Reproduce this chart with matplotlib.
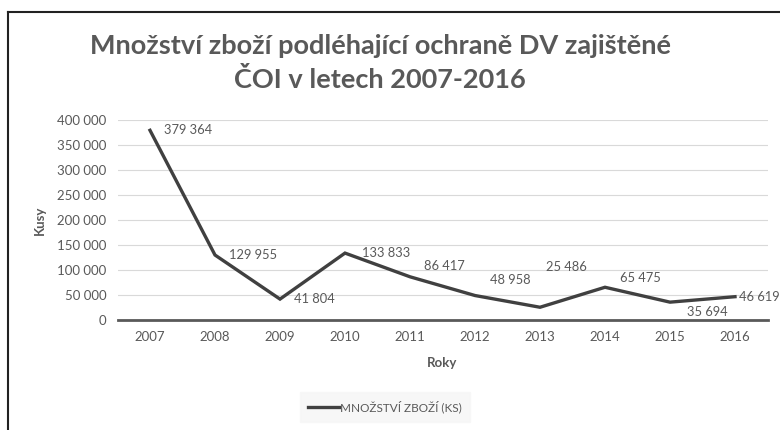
import matplotlib.pyplot as plt
from matplotlib.lines import Line2D

years = [2007, 2008, 2009, 2010, 2011, 2012, 2013, 2014, 2015, 2016]
pieces = [379364, 129955, 41804, 133833, 86417, 48958, 25486, 65475, 35694, 46619]
# label offsets in points (dx, dy), as placed in the original chart
label_offsets = [(10, 0), (10, 0), (10, 0), (12, 0), (10, 8), (11, 11), (4, 29),
                 (11, 7), (12, -7), (3, 0)]

plt.rcParams['font.family'] = ['Lato', 'DejaVu Sans']
grey = '#595959'

fig = plt.figure(figsize=(7.8, 4.3), dpi=100)
ax = fig.add_axes([117.5 / 780, 1 - 320 / 430, 650 / 780, 200 / 430])

x = list(range(len(years)))
ax.plot(x, pieces, color='#404040', lw=2.4, solid_joinstyle='miter', zorder=3)

for xi, v, (dx, dy) in zip(x, pieces, label_offsets):
    ax.annotate(f'{v:,}'.replace(',', ' '), (xi, v), xytext=(dx, dy),
                textcoords='offset points', ha='left', va='center',
                fontsize=9.3, color=grey, annotation_clip=False, zorder=4)

ax.set_xlim(-0.5, len(years) - 0.5)
ax.set_ylim(0, 400000)
ax.set_xticks(x)
ax.set_xticklabels([str(y) for y in years])
ax.set_yticks(range(0, 400001, 50000))
ax.set_yticklabels([f'{t:,}'.replace(',', ' ') for t in range(0, 400001, 50000)])
ax.tick_params(length=0, labelsize=9.5, colors=grey, pad=8)
ax.grid(axis='y', color='#d9d9d9', lw=0.8)
ax.set_axisbelow(True)
for s in ['top', 'right', 'left']:
    ax.spines[s].set_visible(False)
ax.spines['bottom'].set_color('#595959')
ax.spines['bottom'].set_linewidth(2)
ax.spines['bottom'].set_zorder(2)

ax.set_ylabel('Kusy', fontsize=9.5, fontweight='bold', color=grey, labelpad=8)
ax.set_xlabel('Roky', fontsize=9.5, fontweight='bold', color=grey, labelpad=10)

fig.text(380 / 780, 1 - 63 / 430, 'Množství zboží podléhající ochraně DV zajištěné\nČOI v letech 2007-2016',
         ha='center', va='center', fontsize=19.5, fontweight='bold', color=grey,
         linespacing=1.4)

handle = Line2D([], [], color='#404040', lw=2.4)
leg = fig.legend([handle], ['MNOŽSTVÍ ZBOŽÍ (KS)'], loc='center',
                 bbox_to_anchor=(385 / 780, 1 - 407 / 430), frameon=True,
                 fontsize=8.5, handlelength=2.6, handletextpad=0.1,
                 labelcolor=grey, borderpad=0.4)
leg.get_frame().set_facecolor('#f6f6f6')
leg.get_frame().set_edgecolor('#f6f6f6')
leg.get_frame().set_boxstyle('square', pad=0.3)

# outer frame lines (top and left) seen in the screenshot
fig.add_artist(Line2D([8 / 780, 1], [1 - 12 / 430, 1 - 12 / 430], color='#222222', lw=1.5))
fig.add_artist(Line2D([8 / 780, 8 / 780], [0, 1 - 12 / 430], color='#222222', lw=1.5))

fig.savefig('out.png', dpi=100)
